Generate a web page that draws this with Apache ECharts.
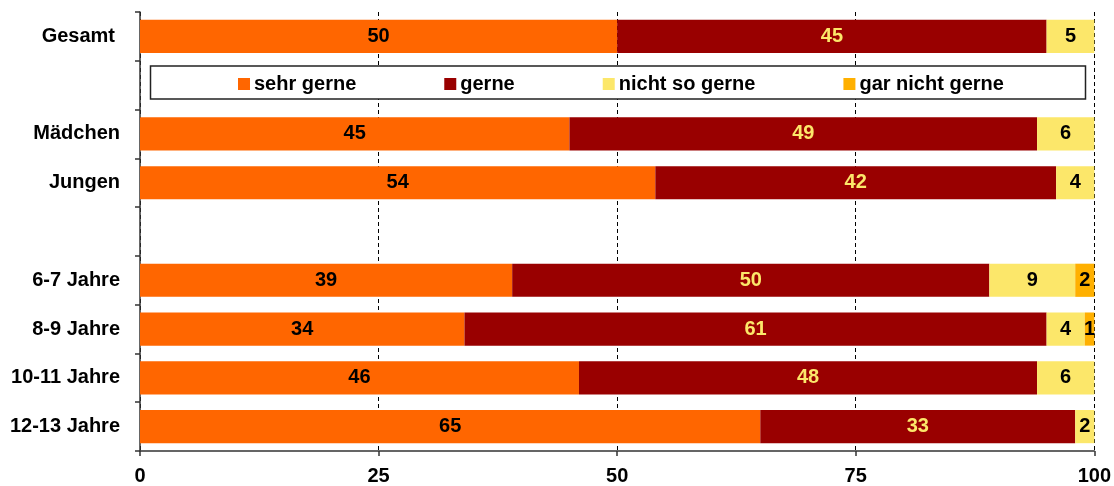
<!DOCTYPE html>
<html>
<head>
<meta charset="utf-8">
<script src="https://cdn.jsdelivr.net/npm/echarts@6/dist/echarts.min.js"></script>
<style>
  html, body { margin: 0; padding: 0; background: #fff; }
  #chart { width: 1114px; height: 486px; }
</style>
</head>
<body>
<div id="chart"></div>
<script>
// Rows from top to bottom; blank rows separate the groups
const categories = ['Gesamt', ' ', 'Mädchen', 'Jungen', '  ', '6-7 Jahre', '8-9 Jahre', '10-11 Jahre', '12-13 Jahre'];
const seriesNames = ['sehr gerne', 'gerne', 'nicht so gerne', 'gar nicht gerne'];
const sehrGerne     = [50, null, 45, 54, null, 39, 34, 46, 65];
const gerne         = [45, null, 49, 42, null, 50, 61, 48, 33];
const nichtSoGerne  = [5,  null, 6,  4,  null, 9,  4,  6,  2];
const garNichtGerne = [null, null, null, null, null, 2, 1, null, null];
const xTicks = [0, 25, 50, 75, 100];

const colors = ['#FF6600', '#990000', '#FCE76A', '#FFB000'];
const labelColors = ['#000', '#FCE76A', '#000', '#000'];
const values = [sehrGerne, gerne, nichtSoGerne, garNichtGerne];

const font = '"Liberation Sans", Arial, sans-serif';

const chart = echarts.init(document.getElementById('chart'), null, { renderer: 'canvas' });

const series = seriesNames.map((name, i) => ({
  name,
  type: 'bar',
  stack: 'total',
  data: values[i],
  barCategoryGap: '32%',
  itemStyle: { color: colors[i] },
  label: {
    show: true,
    position: 'inside',
    color: labelColors[i],
    fontFamily: font,
    fontWeight: 'bold',
    fontSize: 20,
    formatter: p => (p.value == null ? '' : String(p.value))
  },
  emphasis: { disabled: true },
  animation: false
}));

chart.setOption({
  animation: false,
  grid: { left: 140, right: 18, top: 12, bottom: 34, containLabel: false },
  legend: {
    data: seriesNames,
    left: 238,
    top: 74,
    padding: 0,
    itemWidth: 12,
    itemHeight: 12,
    itemGap: 88,
    icon: 'rect',
    selectedMode: false,
    z: 10,
    textStyle: { fontFamily: font, fontWeight: 'bold', fontSize: 20, color: '#000', padding: [0, 0, 0, -1] }
  },
  graphic: [{
    type: 'rect',
    z: 5,
    shape: { x: 150.5, y: 66, width: 935, height: 33 },
    style: { fill: '#fff', stroke: '#222', lineWidth: 1.5 }
  }],
  xAxis: {
    type: 'value',
    min: xTicks[0],
    max: xTicks[xTicks.length - 1],
    interval: 25,
    axisLine: { show: true, lineStyle: { color: '#333', width: 1.5 } },
    axisTick: { show: true, length: 5, lineStyle: { color: '#333', width: 1.5 } },
    axisLabel: { margin: 15, color: '#000', fontFamily: font, fontWeight: 'bold', fontSize: 20 },
    splitLine: {
      show: true,
      lineStyle: { color: '#000', type: [4, 3], width: 1 }
    }
  },
  yAxis: {
    type: 'category',
    data: categories,
    inverse: true,
    axisLine: { show: true, lineStyle: { color: '#333', width: 1.5 } },
    axisTick: { show: true, length: 5, lineStyle: { color: '#333', width: 1.5 } },
    axisLabel: {
      margin: 20,
      color: '#000',
      fontFamily: font,
      fontWeight: 'bold',
      fontSize: 20,
      // the overall row sits a little further from the axis
      formatter: v => (v === categories[0] ? '{top|' + v + '}' : v),
      rich: {
        top: { fontFamily: font, fontWeight: 'bold', fontSize: 20, color: '#000', padding: [0, 5, 0, 0] }
      }
    },
    splitLine: { show: false }
  },
  series
});
</script>
</body>
</html>
